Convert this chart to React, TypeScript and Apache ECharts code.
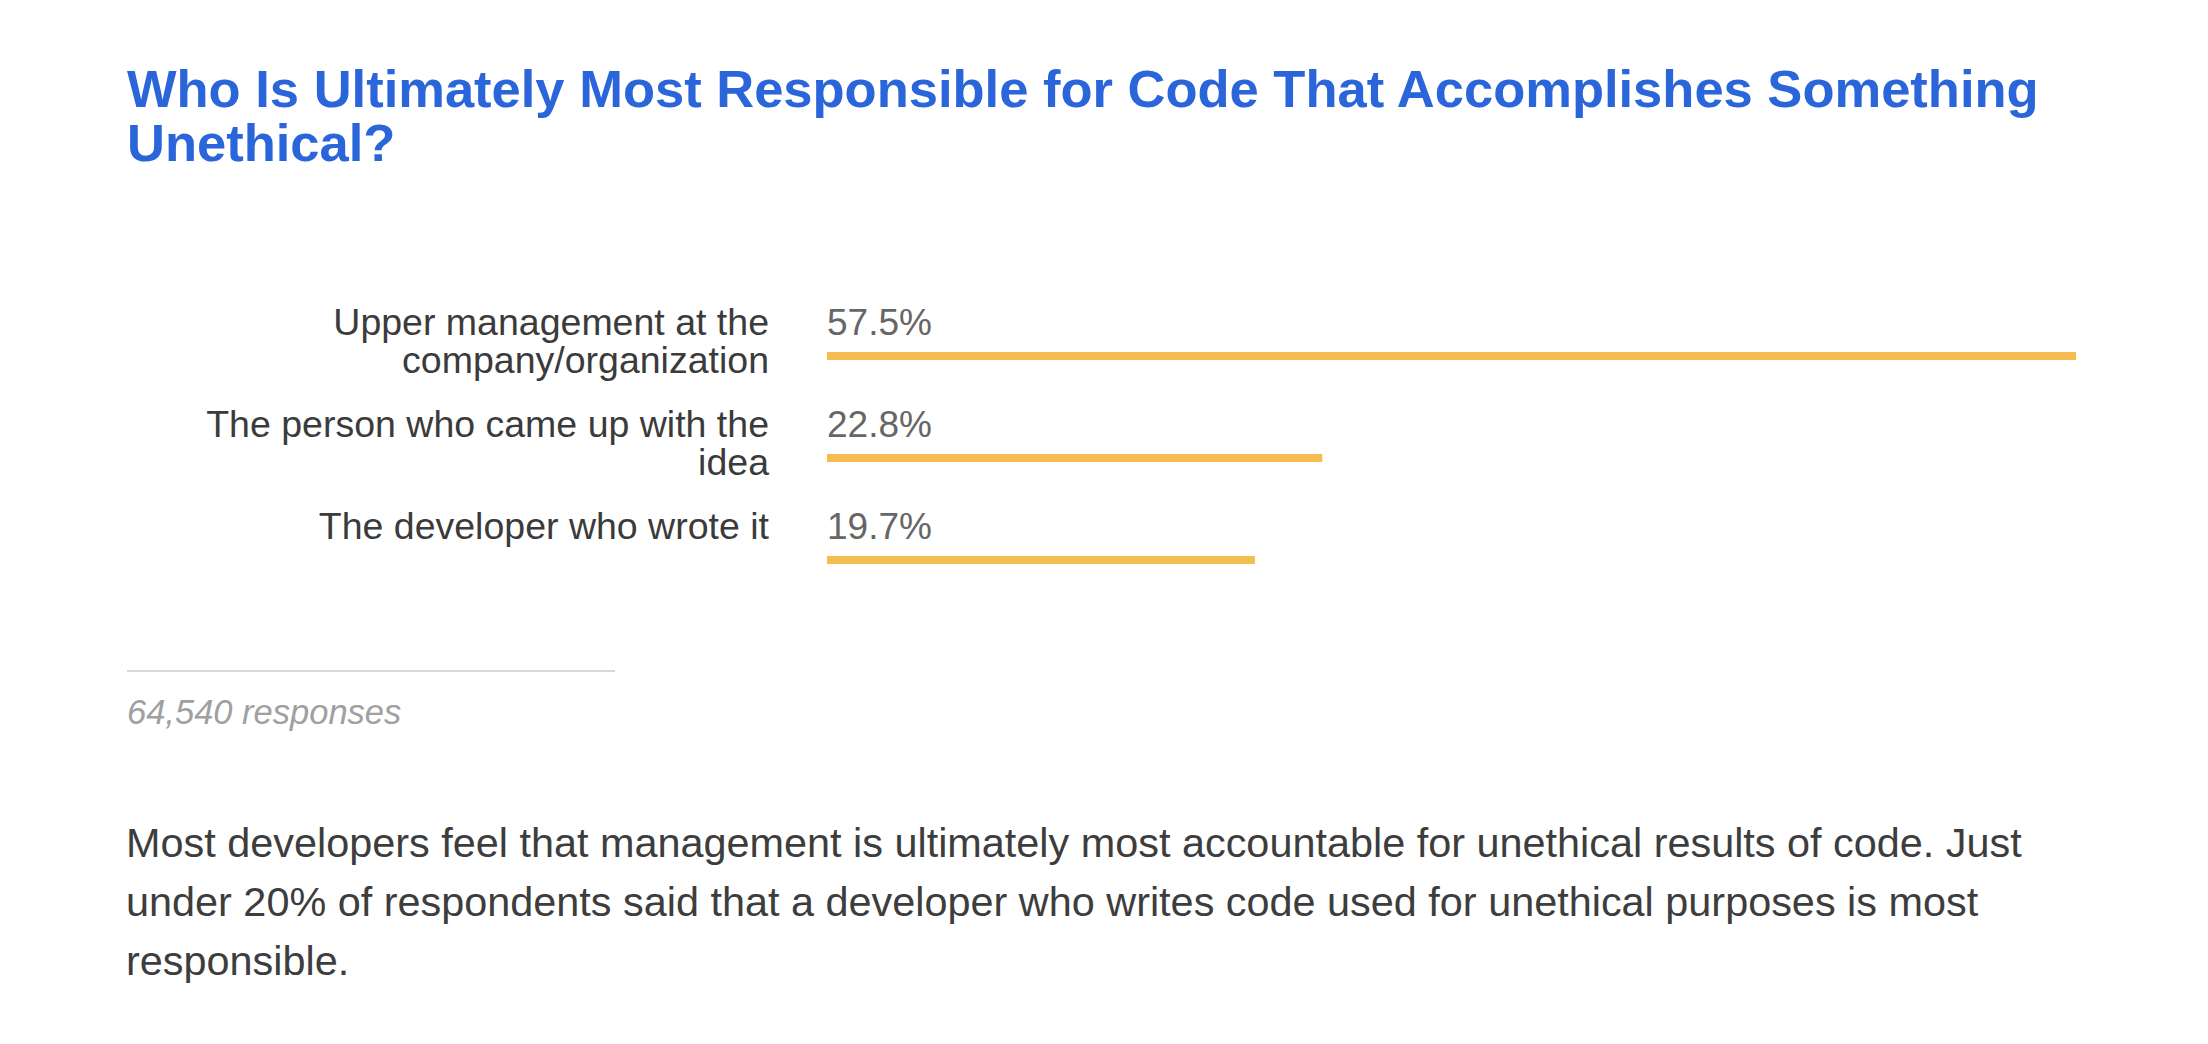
import React, { useEffect, useRef } from "react";
import * as echarts from "echarts";

const titleText =
  "Who Is Ultimately Most Responsible for Code That Accomplishes Something\nUnethical?";
const categories = [
  "Upper management at the\ncompany/organization",
  "The person who came up with the\nidea",
  "The developer who wrote it",
];
const values = [57.5, 22.8, 19.7];
const responsesText = "64,540 responses";
const paragraphLines = [
  "Most developers feel that management is ultimately most accountable for unethical results of code. Just",
  "under 20% of respondents said that a developer who writes code used for unethical purposes is most",
  "responsible.",
];

const FONT = '"Liberation Sans", Arial, Helvetica, sans-serif';

export default function App() {
  const ref = useRef<HTMLDivElement>(null);
  useEffect(() => {
    document.body.style.margin = "0";
    if (!ref.current) return;
    const chart = echarts.init(ref.current, undefined, { renderer: "svg" });
    chart.setOption({
      animation: false,
      backgroundColor: "#ffffff",
      title: {
        text: titleText,
        left: 127,
        top: 61,
        padding: 0,
        textStyle: {
          fontFamily: FONT,
          fontSize: 52.5,
          lineHeight: 54,
          fontWeight: "bold",
          color: "#2a65d9",
        },
      },
      grid: [
        { left: 827, right: 132, top: 252.5, height: 306 },
        { left: 827, right: 132, top: 305, height: 306 },
      ],
      xAxis: [
        { type: "value", gridIndex: 0, min: 0, max: 57.5, show: false },
        {
          type: "value",
          gridIndex: 1,
          min: 0,
          max: (v: any) => v.max,
          show: false,
        },
      ],
      yAxis: [
        {
          type: "category",
          gridIndex: 0,
          inverse: true,
          data: categories,
          axisLine: { show: false },
          axisTick: { show: false },
          splitLine: { show: false },
          axisLabel: {
            margin: 58,
            align: "right",
            verticalAlign: "top",
            fontFamily: FONT,
            fontSize: 37.5,
            lineHeight: 37.5,
            color: "#3b3b3b",
          },
        },
        {
          type: "category",
          gridIndex: 1,
          inverse: true,
          data: categories,
          show: false,
        },
      ],
      series: [
        {
          type: "bar",
          xAxisIndex: 1,
          yAxisIndex: 1,
          data: values,
          barWidth: 8,
          itemStyle: { color: "#f5bc52" },
          label: {
            show: true,
            position: [0, -29.5],
            align: "left",
            verticalAlign: "middle",
            formatter: "{c}%",
            fontFamily: FONT,
            fontSize: 37,
            color: "#666666",
          },
        },
      ],
      graphic: [
        {
          type: "line",
          shape: { x1: 127, y1: 671, x2: 615, y2: 671 },
          style: { stroke: "#d9d9d9", lineWidth: 2 },
        },
        {
          type: "text",
          x: 127,
          y: 712,
          style: {
            text: responsesText,
            fontFamily: FONT,
            fontSize: 34.5,
            fontStyle: "italic",
            fill: "#a0a0a0",
            verticalAlign: "middle",
            align: "left",
          },
        },
        {
          type: "text",
          x: 126,
          y: 813,
          style: {
            text: paragraphLines.join("\n"),
            fontFamily: FONT,
            fontSize: 41.4,
            lineHeight: 59,
            fill: "#3d3d3d",
            verticalAlign: "top",
            align: "left",
          },
        },
      ],
    });
    return () => chart.dispose();
  }, []);
  return <div ref={ref} style={{ width: 2208, height: 1044 }} />;
}
